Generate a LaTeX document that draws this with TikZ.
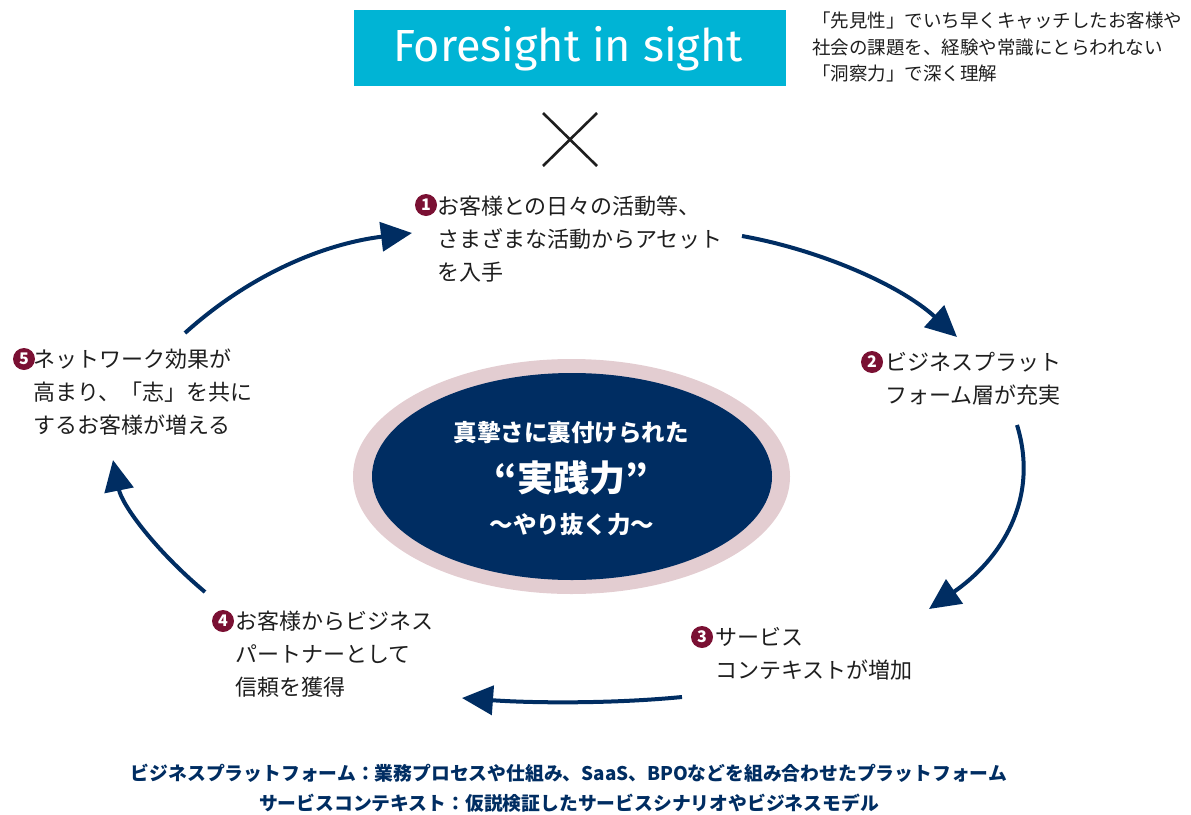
\documentclass[tikz,border=0pt]{standalone}
\usepackage{fontspec}
\setmainfont{Noto Sans CJK JP}
\newfontfamily\titlefont{Fira Sans}
\usetikzlibrary{arrows.meta,shapes.geometric}
\definecolor{cyanbox}{HTML}{00B4D5}
\definecolor{navy}{HTML}{002D62}
\definecolor{pinkring}{HTML}{E3CDD1}
\definecolor{maroon}{HTML}{7A1033}
\definecolor{txt}{HTML}{1E1E1E}
\tikzset{
  steptext/.style={anchor=west, inner sep=0pt, align=left, text=txt,
    font=\fontsize{22}{33}\selectfont},
  numdot/.style={circle, fill=maroon, inner sep=0pt, minimum size=22pt,
    text=white, font=\fontsize{16}{16}\selectfont\bfseries},
  cyclearrow/.style={draw=navy, line width=4pt,
    -{Triangle[length=31pt,width=29pt]}},
  notetext/.style={text=navy, font=\fontsize{18.8}{30}\selectfont\bfseries, inner sep=0pt}
}
\begin{document}
\begin{tikzpicture}[x=1pt,y=-1pt]
\useasboundingbox (0,0) rectangle (1191,814);
% title box
\node[fill=cyanbox, minimum width=432pt, minimum height=76pt, inner sep=0pt] (titlebox) at (570,48) {};
\node[anchor=base, text=white, font=\titlefont\fontsize{45}{45}\selectfont, inner sep=0pt] (title) at (568,61) {Foresight in sight};
% cross
\coordinate (xa) at (543,113);
\coordinate (xb) at (597,166);
\coordinate (xc) at (597,113);
\coordinate (xd) at (543,166);
\draw[line width=2.6pt, draw=txt] (xa) -- (xb) (xc) -- (xd);
% top right text
\node[anchor=west, inner sep=0pt, align=left, text=txt, font=\fontsize{18.5}{26.5}\selectfont] (foresight) at (812,47)
  {「先見性」でいち早くキャッチしたお客様や\\社会の課題を、経験や常識にとらわれない\\「洞察力」で深く理解};
% center ellipse
\node[ellipse, fill=pinkring, minimum width=437pt, minimum height=235pt, inner sep=0pt] (ring) at (571.5,476.5) {};
\node[ellipse, fill=navy, minimum width=400pt, minimum height=207pt, inner sep=0pt] (core) at (572,476.5) {};
\node[text=white, font=\fontsize{23.5}{23.5}\selectfont\bfseries, inner sep=0pt] (c1) at (571,433) {真摯さに裏付けられた};
\node[text=white, font=\fontsize{36}{36}\selectfont\bfseries, inner sep=0pt] (c2) at (571,478) {“実践力”};
\node[text=white, font=\fontsize{23.5}{23.5}\selectfont\bfseries, inner sep=0pt] (c3) at (572,525) {〜やり抜く力〜};
% steps
\node[numdot] (n1) at (426,205) {1};
\node[steptext] (s1) at (437,239) {お客様との日々の活動等、\\さまざまな活動からアセット\\を入手};
\node[numdot] (n2) at (872,362) {2};
\node[steptext] (s2) at (885,378.5) {ビジネスプラット\\フォーム層が充実};
\node[numdot] (n3) at (702,637) {3};
\node[steptext] (s3) at (715,653.5) {サービス\\コンテキストが増加};
\node[numdot] (n4) at (223,621) {4};
\node[steptext] (s4) at (235,654) {お客様からビジネス\\パートナーとして\\信頼を獲得};
\node[numdot] (n5) at (24,359) {5};
\node[steptext] (s5) at (33,392) {ネットワーク効果が\\高まり、「志」を共に\\するお客様が増える};
% arrows
\coordinate (a1s) at (185,333); \coordinate (a1e) at (412,233);
\coordinate (a2s) at (742,236); \coordinate (a2e) at (957,337);
\coordinate (a3s) at (1017,425); \coordinate (a3e) at (929,609);
\coordinate (a4s) at (682,697); \coordinate (a4e) at (462,698);
\coordinate (a5s) at (205,592); \coordinate (a5e) at (113,460);
\draw[cyclearrow] (a1s) .. controls (255,270) and (330,243) .. (a1e);
\draw[cyclearrow] (a2s) .. controls (820,250) and (900,285) .. (a2e);
\draw[cyclearrow] (a3s) .. controls (1040,500) and (1000,560) .. (a3e);
\draw[cyclearrow] (a4s) .. controls (610,704) and (530,703) .. (a4e);
\draw[cyclearrow] (a5s) .. controls (155,550) and (122,505) .. (a5e);
% notes
\node[notetext] (note1) at (569,773) {ビジネスプラットフォーム：業務プロセスや仕組み、SaaS、BPOなどを組み合わせたプラットフォーム};
\node[notetext] (note2) at (569,803) {サービスコンテキスト：仮説検証したサービスシナリオやビジネスモデル};
\end{tikzpicture}
\end{document}
